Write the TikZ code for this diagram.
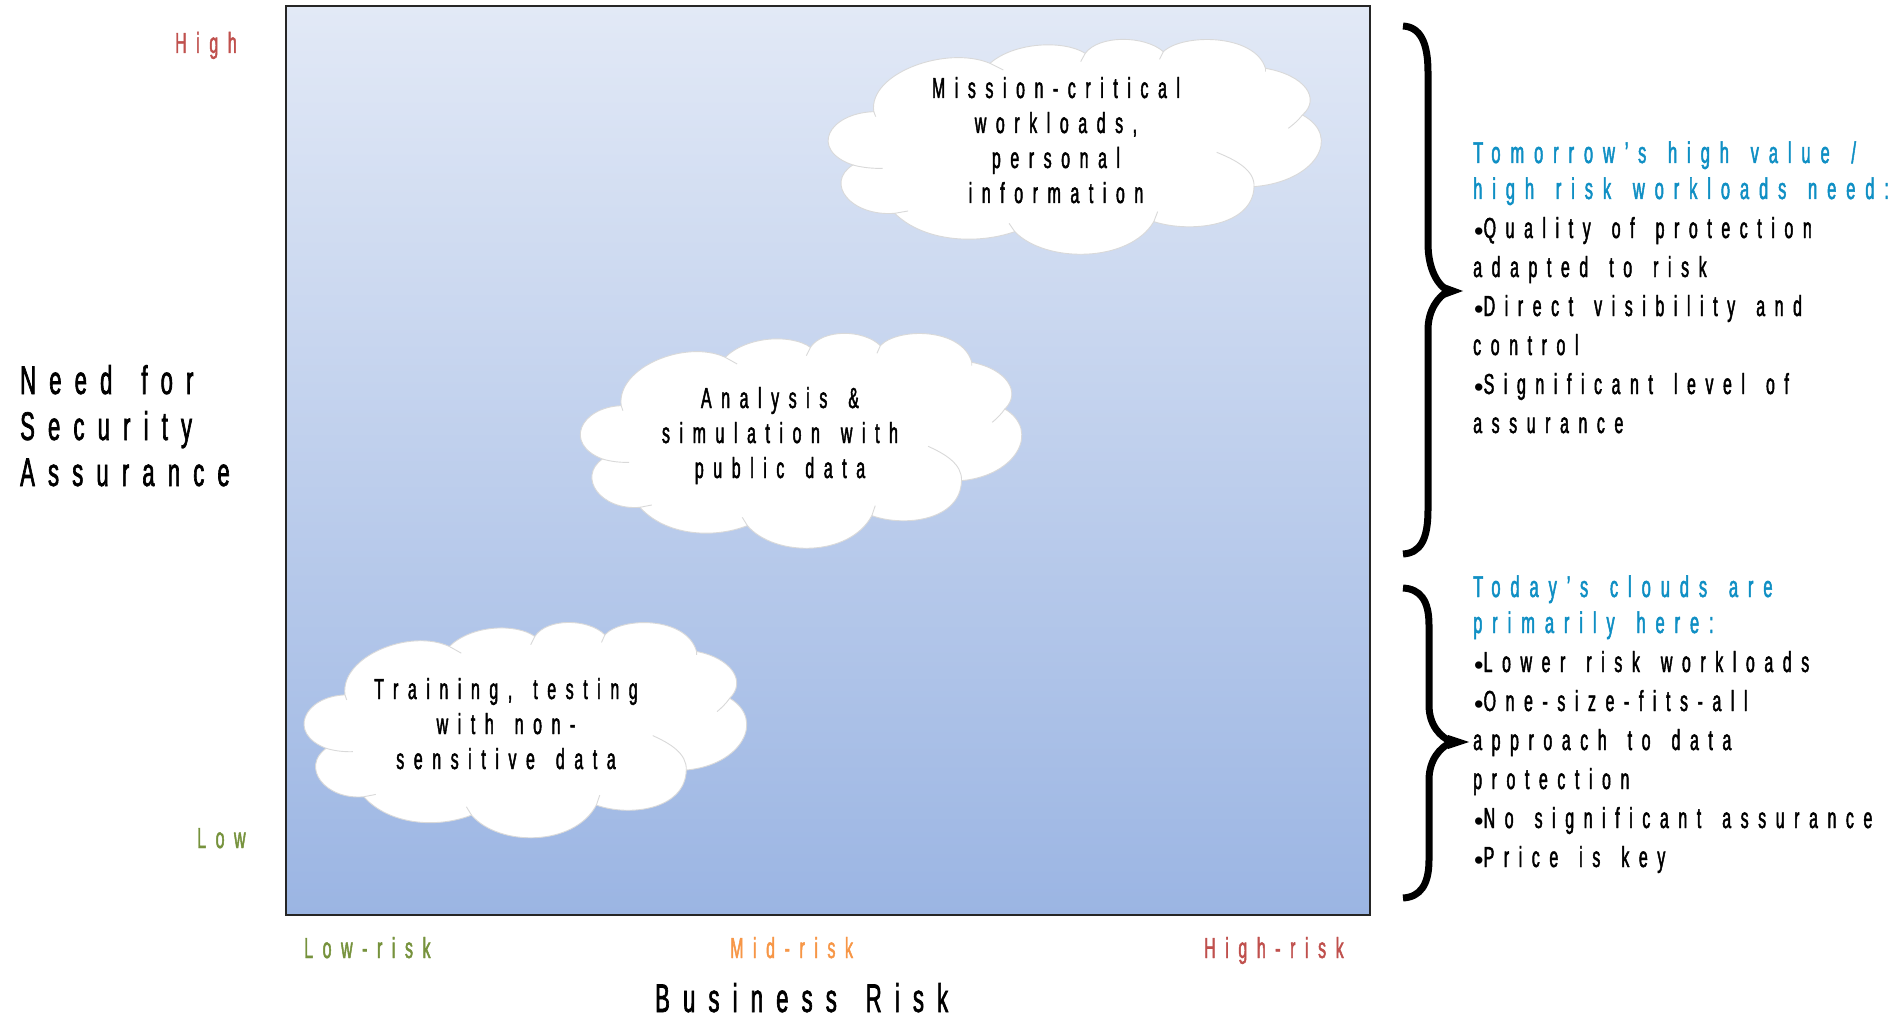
\documentclass[tikz,border=0pt]{standalone}
\usepackage{fontspec}
\setmainfont{Liberation Sans}
\newfontfamily\nar[FakeStretch=0.55,LetterSpace=33,WordSpace=1.5,FakeBold=1.6]{Liberation Sans}
\newfontfamily\bul{Liberation Sans}
\definecolor{bluehead}{HTML}{0F8FC4}
\definecolor{redlab}{HTML}{C0504D}
\definecolor{greenlab}{HTML}{76923C}
\definecolor{orangelab}{HTML}{F79646}
\definecolor{cloudline}{HTML}{D9D9D9}
\definecolor{panelbot}{HTML}{9BB5E3}
\definecolor{paneltop}{HTML}{E2E9F6}
\newcommand{\cloudoutline}{
  \path[fill=white,draw=cloudline,line width=.9pt]
   (190,335) .. controls (175,220) and (380,135) .. (495,190)
   .. controls (560,125) and (690,120) .. (745,160)
   .. controls (780,105) and (900,105) .. (950,155)
   .. controls (1000,100) and (1190,100) .. (1218,205)
   .. controls (1320,225) and (1365,295) .. (1315,345)
   .. controls (1420,410) and (1350,545) .. (1188,560)
   .. controls (1185,680) and (1020,700) .. (925,665)
   .. controls (860,790) and (640,790) .. (560,695)
   .. controls (460,735) and (320,725) .. (245,640)
   .. controls (130,650) and (60,550) .. (135,495)
   .. controls (20,450) and (70,340) .. (190,335) -- cycle;
  \draw[cloudline,line width=.9pt]
   (495,190) -- (530,210)
   (745,160) -- (733,185)
   (950,155) -- (940,178)
   (1218,205) -- (1218,215)
   (1315,345) .. controls (1305,360) and (1290,375) .. (1278,385)
   (1188,560) .. controls (1190,510) and (1140,480) .. (1090,457)
   (935,635) -- (925,665)
   (545,670) -- (560,695)
   (245,640) -- (280,633)
   (135,495) .. controls (160,503) and (190,506) .. (213,505)
   (190,335) -- (195,350);
}
\tikzset{
  x=1pt,y=-1pt,
  lab/.style={inner sep=0pt,anchor=base west,font=\fontsize{29}{35}\selectfont\nar},
  cloudtext/.style={inner sep=0pt,anchor=base,align=center,font=\fontsize{29}{35}\selectfont\nar},
  bigtext/.style={inner sep=0pt,anchor=base west,font=\fontsize{40}{46}\selectfont\nar},
  panelhead/.style={inner sep=0pt,anchor=base west,align=left,text=bluehead,font=\fontsize{30}{36}\selectfont\nar},
  panelbody/.style={inner sep=0pt,anchor=base west,align=left,font=\fontsize{29}{39}\selectfont\nar},
  bracestroke/.style={line width=7pt,black},
}
\newcommand{\bu}{{\bul\fontsize{27}{35}\selectfont\kern1pt\raisebox{-2pt}{•}}}
\begin{document}
\begin{tikzpicture}
\useasboundingbox (0,0) rectangle (1891,1019);
\fill[white] (0,0) rectangle (1891,1019);
\shade[top color=paneltop,bottom color=panelbot] (286,6) rectangle (1370,915);
\draw[black!85,line width=1.4pt] (286,6) rectangle (1370,915);
\begin{scope}[shift={(801.4,0)},xscale=.381,yscale=.3333] \cloudoutline \end{scope}
\begin{scope}[shift={(556.4,294)},xscale=.341,yscale=.3333] \cloudoutline \end{scope}
\begin{scope}[shift={(280,583)},xscale=.342,yscale=.334] \cloudoutline \end{scope}
\node[cloudtext] (c1) at (1056,203) {Mission-critical\\workloads,\\personal\\information};
\node[cloudtext] (c2) at (780,478) {Analysis \&\\simulation with\\public data};
\node[cloudtext] (c3) at (506,769) {Training, testing\\with non-\\sensitive data};
\node[bigtext,align=left] (need) at (20,486) {Need for\\Security\\Assurance};
\node[lab,text=redlab] (high) at (175,53) {High};
\node[lab,text=greenlab] (low) at (197,848) {Low};
\node[lab,text=greenlab] (lowrisk) at (304,958) {Low-risk};
\node[lab,text=orangelab] (midrisk) at (730,958) {Mid-risk};
\node[lab,text=redlab] (highrisk) at (1204,958) {High-risk};
\node[bigtext] (biz) at (655,1012) {Business Risk};
\node[panelhead] (h1) at (1473,199) {Tomorrow’s high value /\\high risk workloads need:};
\node[panelbody] (b1) at (1473,433) {\bu Quality of protection\\adapted to risk\\\bu Direct visibility and\\control\\\bu Significant level of\\assurance};
\node[panelhead] (h2) at (1473,633) {Today’s clouds are\\primarily here:};
\node[panelbody] (b2) at (1473,867) {\bu Lower risk workloads\\\bu One-size-fits-all\\approach to data\\protection\\\bu No significant assurance\\\bu Price is key};
% upper brace
\draw[bracestroke] (1403,26) .. controls (1420,27) and (1428,42) .. (1428,72) -- (1428,243) .. controls (1428,270) and (1438,285) .. (1448,291);
\draw[bracestroke] (1403,554) .. controls (1420,553) and (1428,540) .. (1428,510) -- (1428,330) .. controls (1428,310) and (1438,297) .. (1448,291);
\fill (1444,284) -- (1463,291) -- (1444,298) -- cycle;
% lower brace
\draw[bracestroke] (1403,588) .. controls (1420,589) and (1429,600) .. (1429,625) -- (1429,705) .. controls (1429,725) and (1440,737) .. (1452,742);
\draw[bracestroke] (1403,898) .. controls (1420,897) and (1429,885) .. (1429,860) -- (1429,780) .. controls (1429,760) and (1440,747) .. (1452,742);
\fill (1448,735) -- (1469,742) -- (1448,749) -- cycle;
\end{tikzpicture}
\end{document}
